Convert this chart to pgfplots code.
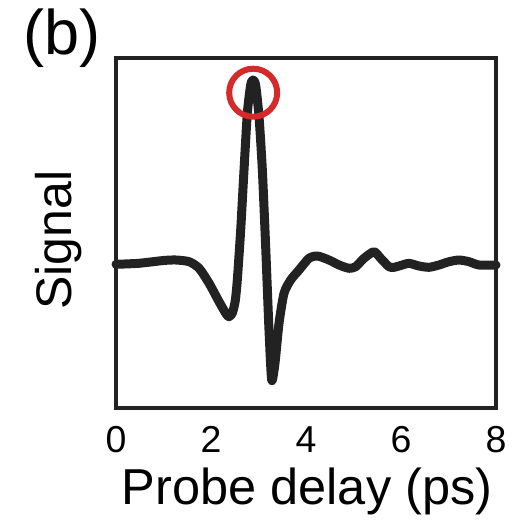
\documentclass[border=0pt]{standalone}
\usepackage{pgfplots}
\pgfplotsset{compat=1.18}
\usepackage{fontspec}
\setmainfont{Liberation Sans}
\definecolor{curve}{HTML}{222222}
\definecolor{ring}{HTML}{D42A2A}
\begin{document}
\begin{tikzpicture}
\useasboundingbox (-116pt,-111pt) rectangle (410pt,408pt);
\begin{axis}[
  at={(0pt,0pt)}, anchor=south west,
  scale only axis, width=380pt, height=350pt,
  xmin=0, xmax=8, ymin=-145, ymax=205,
  xtick={0,2,4,6,8}, ytick=\empty,
  major tick length=0pt,
  axis line style={line width=4.5pt, color=curve},
  /pgf/number format/assume math mode=true,
  xticklabel style={font=\fontsize{37.5}{40}\selectfont, anchor=base, yshift=-44pt, inner sep=0pt},
  xlabel={Probe delay (ps)},
  xlabel style={font=\fontsize{50.5}{56}\selectfont, anchor=base, inner sep=0pt, at={(axis description cs:0.503,-0.277)}},
  ylabel={Signal},
  ylabel style={font=\fontsize{50}{56}\selectfont, anchor=base, rotate=0, inner sep=0pt, at={(axis description cs:-0.116,0.48)}},
  clip=false,
]
\addplot[color=curve, line width=9pt, smooth, tension=0.4, line join=round, line cap=round] coordinates {
(0.00,-1.3) (0.48,-0.3) (1.00,2.5) (1.26,3) (1.54,1.3) (1.75,-5.3) (1.96,-20.3)
(2.17,-38.7) (2.32,-51) (2.38,-53.7) (2.45,-50) (2.51,-38) (2.554,-17) (2.625,33)
(2.695,93) (2.765,149.7) (2.835,178) (2.884,183) (2.94,178) (3.011,146.3)
(3.081,93) (3.151,16.3) (3.221,-67) (3.278,-117) (3.347,-100.3) (3.432,-60.3)
(3.537,-30.3) (3.677,-17) (3.853,-7) (4.063,4.7) (4.239,7) (4.484,3) (4.695,-2)
(4.905,-5.3) (5.046,-3.7) (5.221,4.7) (5.432,11.3) (5.572,4.7) (5.747,-3.7)
(5.853,-4.3) (6.028,-2) (6.168,-0.3) (6.379,-3) (6.589,-4.3) (6.8,-2) (7.011,1.3)
(7.221,3) (7.432,1.3) (7.642,-2) (8.0,-2)
};
\addplot[only marks, mark=o, mark size=24pt, mark options={line width=6pt, draw=ring}] coordinates {(2.888,170.3)};
\end{axis}
\node[font=\fontsize{63}{70}\selectfont, anchor=base west, inner sep=0pt] at (-93pt,353pt) {(b)};
\end{tikzpicture}
\end{document}
